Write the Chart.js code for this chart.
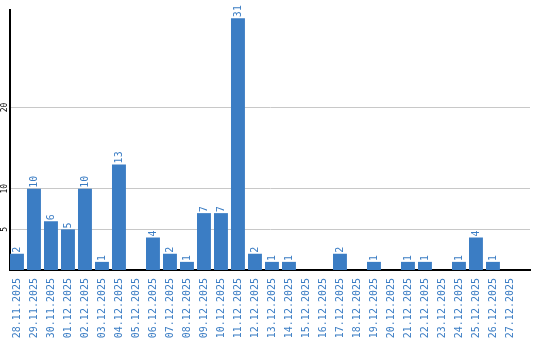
<!DOCTYPE html>
<html>
<head>
<meta charset="utf-8">
<script src="https://cdn.jsdelivr.net/npm/chart.js@4"></script>
<style>
  html, body { margin: 0; padding: 0; background: #fff; }
  #wrap { width: 540px; height: 340px; }
</style>
</head>
<body>
<div id="wrap"><canvas id="chart"></canvas></div>
<script>
const days = [
  '28.11.2025', '29.11.2025', '30.11.2025', '01.12.2025', '02.12.2025', '03.12.2025',
  '04.12.2025', '05.12.2025', '06.12.2025', '07.12.2025', '08.12.2025', '09.12.2025',
  '10.12.2025', '11.12.2025', '12.12.2025', '13.12.2025', '14.12.2025', '15.12.2025',
  '16.12.2025', '17.12.2025', '18.12.2025', '19.12.2025', '20.12.2025', '21.12.2025',
  '22.12.2025', '23.12.2025', '24.12.2025', '25.12.2025', '26.12.2025', '27.12.2025',
];
const counts = [2, 10, 6, 5, 10, 1, 13, 0, 4, 2, 1, 7, 7, 31, 2, 1, 1, 0, 0, 2, 0, 1, 0, 1, 1, 0, 1, 4, 1, 0];
const yTicks = [5, 10, 20];
const yMax = 32;

const BLUE = '#3b7dc4';
const MONO = '"DejaVu Sans Mono", monospace';

// rotated numbers above bars and rotated y tick labels
const rotatedLabels = {
  id: 'rotatedLabels',
  afterDatasetsDraw(chart) {
    const ctx = chart.ctx;
    const meta = chart.getDatasetMeta(0);
    ctx.save();
    ctx.font = `10px ${MONO}`;
    ctx.fillStyle = BLUE;
    ctx.textAlign = 'left';
    ctx.textBaseline = 'middle';
    meta.data.forEach((bar, i) => {
      if (!counts[i]) return;
      ctx.save();
      ctx.translate(bar.x, bar.y - 1);
      ctx.rotate(-Math.PI / 2);
      ctx.fillText(String(counts[i]), 0, 0);
      ctx.restore();
    });

    const y = chart.scales.y;
    ctx.font = `8px ${MONO}`;
    ctx.fillStyle = '#000';
    ctx.textAlign = 'center';
    yTicks.forEach((v) => {
      ctx.save();
      ctx.translate(5, y.getPixelForValue(v));
      ctx.rotate(-Math.PI / 2);
      ctx.fillText(String(v), 0, 0);
      ctx.restore();
    });
    ctx.restore();
  },
};

new Chart(document.getElementById('chart'), {
  type: 'bar',
  data: {
    datasets: [
      {
        data: counts.map((c, i) => ({ x: i, y: c })),
        backgroundColor: BLUE,
        barPercentage: 0.82,
        categoryPercentage: 1,
      },
    ],
  },
  options: {
    responsive: true,
    maintainAspectRatio: false,
    animation: false,
    layout: { padding: { left: 10, right: 10, top: 10, bottom: 0 } },
    plugins: { legend: { display: false }, tooltip: { enabled: false } },
    scales: {
      x: {
        type: 'linear',
        min: -0.41,
        max: 30.18,
        offset: false,
        grid: { display: false },
        border: { color: '#000', width: 2 },
        ticks: {
          color: BLUE,
          font: { family: MONO, size: 10 },
          minRotation: 90,
          maxRotation: 90,
          autoSkip: false,
          padding: 0,
          callback: (v) => days[v],
        },
        afterBuildTicks: (axis) => { axis.ticks = days.map((_, i) => ({ value: i })); },
        afterFit: (axis) => { axis.height = 70; },
      },
      y: {
        min: 0,
        max: yMax,
        grid: { color: '#c8c8c8', drawTicks: false },
        border: { color: '#000', width: 2 },
        ticks: { display: false },
        afterBuildTicks: (axis) => { axis.ticks = yTicks.map((v) => ({ value: v })); },
        afterFit: (axis) => { axis.width = 0; },
      },
    },
  },
  plugins: [rotatedLabels],
});
</script>
</body>
</html>
